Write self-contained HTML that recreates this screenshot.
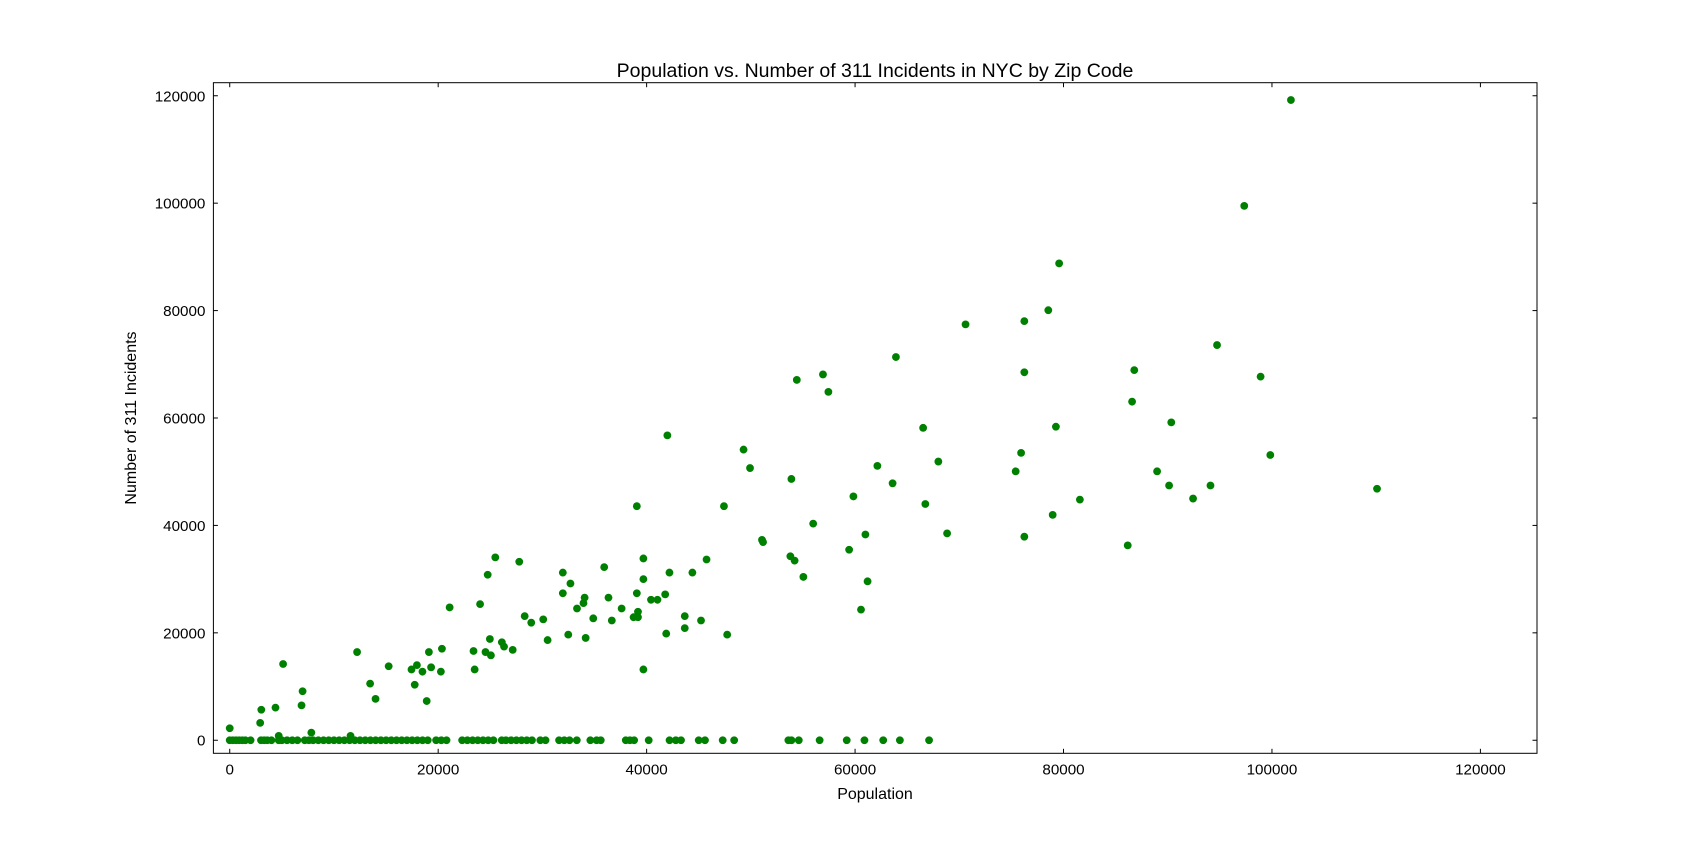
<!DOCTYPE html>
<html><head><meta charset="utf-8"><style>
body{margin:0;background:#fff;}
svg text{font-family:"Liberation Sans","DejaVu Sans",sans-serif;fill:#000;}
</style></head><body>
<svg id="chart" width="1707" height="838" viewBox="0 0 1707 838" xmlns="http://www.w3.org/2000/svg">
<rect width="1707" height="838" fill="#fff"/>
<g id="marks"></g>
<rect x="213.4" y="82.7" width="1323.6" height="670.6" fill="none" stroke="#000" stroke-width="1"/>
<g id="axes"></g>
<text x="875" y="77" font-size="19.5" text-anchor="middle">Population vs. Number of 311 Incidents in NYC by Zip Code</text>
<text x="875" y="799" font-size="16" text-anchor="middle">Population</text>
<text x="136" y="418" font-size="16" text-anchor="middle" transform="rotate(-90 136 418)">Number of 311 Incidents</text>
</svg>
<script>
const xTicks=[0,20000,40000,60000,80000,100000,120000];
const yTicks=[0,20000,40000,60000,80000,100000,120000];
const zeroPop=[0,300,600,900,1200,1500,2000,3000,3300,3600,4000,4700,5000,5500,6000,6500,7200,7600,8000,8500,9000,9500,10000,10500,11000,11500,12000,12500,13000,13500,14000,14500,15000,15500,16000,16500,17000,17500,18000,18500,19000,19800,20300,20800,22300,22800,23300,23800,24300,24800,25300,26100,26500,27000,27500,28000,28500,29000,29800,30300,31600,32100,32600,33300,34600,35200,35600,38000,38400,38800,40200,42200,42800,43300,45000,45600,47300,48400,53600,53900,54600,56600,59200,60900,62700,64300,67100];
const popVals=[0,3030,2920,4390,5120,4700,6990,6890,7830,11590,12220,13470,13990,15250,17440,17750,17960,18490,18900,19110,19320,20260,20360,21100,23390,23500,24020,24540,24750,24960,25060,25480,26110,26320,27150,27780,28300,28930,30080,30500,31960,31960,32480,32690,33320,33940,34050,34150,34880,35930,36340,36660,37600,38750,39060,39060,39170,39170,39690,39690,39690,40420,41040,41780,41880,42190,41990,43660,43660,44390,45220,45750,47420,47730,49920,49300,51070,51170,53790,53890,54200,54410,55040,55980,56920,57440,59430,59840,60570,60990,61200,62140,63600,63920,66530,66740,67990,68830,70600,75410,75930,76240,76240,76240,78540,78960,79270,79580,81570,86160,86580,86790,88980,90130,90340,92430,94100,94730,97340,98910,99840,101820,110080];
const incVals=[2230,5680,3240,6080,14190,810,9120,6490,1420,810,16420,10540,7700,13780,13180,10340,13990,12770,7300,16420,13580,12770,17030,24730,16620,13180,25340,16420,30810,18850,15810,34050,18240,17430,16820,33240,23110,21890,22500,18650,27360,31220,19660,29190,24530,25540,26550,19050,22700,32230,26550,22300,24530,22910,43580,27360,23920,22910,33850,30000,13180,26150,26150,27160,19860,31220,56760,20880,23110,31220,22300,33650,43580,19660,50680,54120,37300,36890,34260,48650,33450,67090,30410,40340,68110,64860,35470,45400,24320,38310,29590,51080,47840,71350,58170,43990,51890,38510,77430,50070,53510,78040,68510,37900,80070,41960,58380,88780,44800,36280,63040,68920,50070,47430,59190,45000,47430,73580,99500,67700,53110,119200,46820];
const X0=213.4,X1=1537,Y0=82.7,Y1=753.3,xmin=-1567,xmax=125430,ymin=-2430,ymax=122430;
const sx=v=>X0+(v-xmin)/(xmax-xmin)*(X1-X0);
const sy=v=>Y1-(v-ymin)/(ymax-ymin)*(Y1-Y0);
const NS="http://www.w3.org/2000/svg";
const marks=document.getElementById('marks'),axes=document.getElementById('axes');
function dot(x,y){const c=document.createElementNS(NS,'circle');
c.setAttribute('cx',sx(x));c.setAttribute('cy',sy(y));c.setAttribute('r',3.9);c.setAttribute('fill','#008000');


marks.appendChild(c);}
zeroPop.forEach(p=>dot(p,0));
popVals.forEach((p,i)=>dot(p,incVals[i]));
xTicks.forEach(t=>{const x=sx(t);
[[Y1,Y1-4.5],[Y0,Y0+4.5]].forEach(([a,b])=>{const l=document.createElementNS(NS,'line');l.setAttribute('x1',x);l.setAttribute('x2',x);l.setAttribute('y1',a);l.setAttribute('y2',b);l.setAttribute('stroke','#000');


axes.appendChild(l);});
const tx=document.createElementNS(NS,'text');tx.setAttribute('x',x);tx.setAttribute('y',Y1+21);tx.setAttribute('font-size','15.2');tx.setAttribute('text-anchor','middle');tx.textContent=t;


axes.appendChild(tx);});
yTicks.forEach(t=>{const y=sy(t);
[[X0,X0+4.5],[X1,X1-4.5]].forEach(([a,b])=>{const l=document.createElementNS(NS,'line');l.setAttribute('y1',y);l.setAttribute('y2',y);l.setAttribute('x1',a);l.setAttribute('x2',b);l.setAttribute('stroke','#000');


axes.appendChild(l);});
const tx=document.createElementNS(NS,'text');tx.setAttribute('x',X0-8);tx.setAttribute('y',y+5.5);tx.setAttribute('font-size','15.2');tx.setAttribute('text-anchor','end');tx.textContent=t;


axes.appendChild(tx);});
</script>
</body></html>
